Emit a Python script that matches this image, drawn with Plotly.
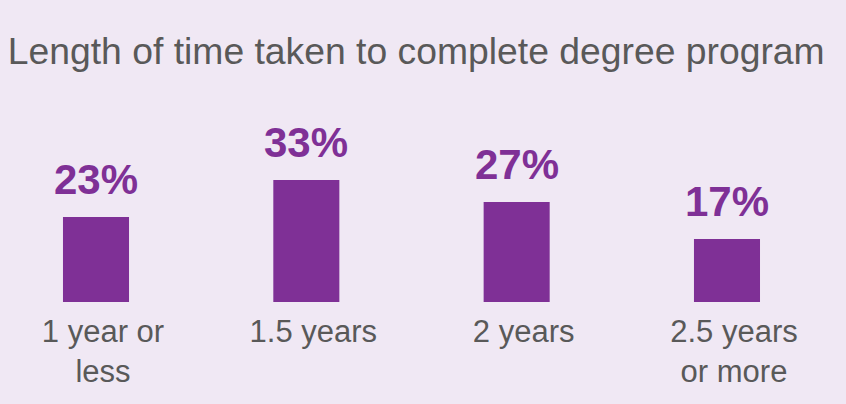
import plotly.graph_objects as go

categories = ["1 year or<br>less", "1.5 years", "2 years", "2.5 years<br>or more"]
values = [23, 33, 27, 17]
value_labels = ["23%", "33%", "27%", "17%"]
title_text = "Length of time taken to complete degree program"

BG = "#F0E8F4"
PURPLE = "#7F3096"
GRAY = "#595959"

xs = list(range(len(categories)))

fig = go.Figure()
fig.add_trace(go.Bar(
    x=xs, y=values, width=0.314,
    marker=dict(color=PURPLE, line=dict(width=0)),
    hoverinfo="skip",
))

for x, v, t in zip(xs, values, value_labels):
    fig.add_annotation(
        x=x, y=v, text="<b>" + t + "</b>", showarrow=False,
        yanchor="bottom", yshift=12,
        font=dict(family="Liberation Sans, Arial", size=42, color=PURPLE),
    )

fig.update_layout(
    width=846, height=404,
    paper_bgcolor=BG, plot_bgcolor=BG,
    margin=dict(l=0, r=0, t=0, b=102),
    showlegend=False,
    title=dict(
        text=title_text, x=0.492, xanchor="center",
        y=1 - 51 / 404, yanchor="middle", yref="container",
        font=dict(family="Liberation Sans, Arial", size=37.3, color=GRAY),
    ),
    xaxis=dict(
        range=[-96 / 210.33, 750 / 210.33],
        tickvals=xs, ticktext=categories,
        showgrid=False, zeroline=False, showline=False, ticks="",
        ticklabelstandoff=8, ticklabelshift=7,
        tickfont=dict(family="Liberation Sans, Arial", size=31, color=GRAY),
        fixedrange=True,
    ),
    yaxis=dict(
        range=[0, 302 / 3.7], visible=False, showgrid=False, zeroline=False,
        fixedrange=True,
    ),
)

fig.write_html(
    "out.html",
    config={"displayModeBar": False},
    post_script="document.body.style.margin='0';document.body.style.background='" + BG + "';",
)
